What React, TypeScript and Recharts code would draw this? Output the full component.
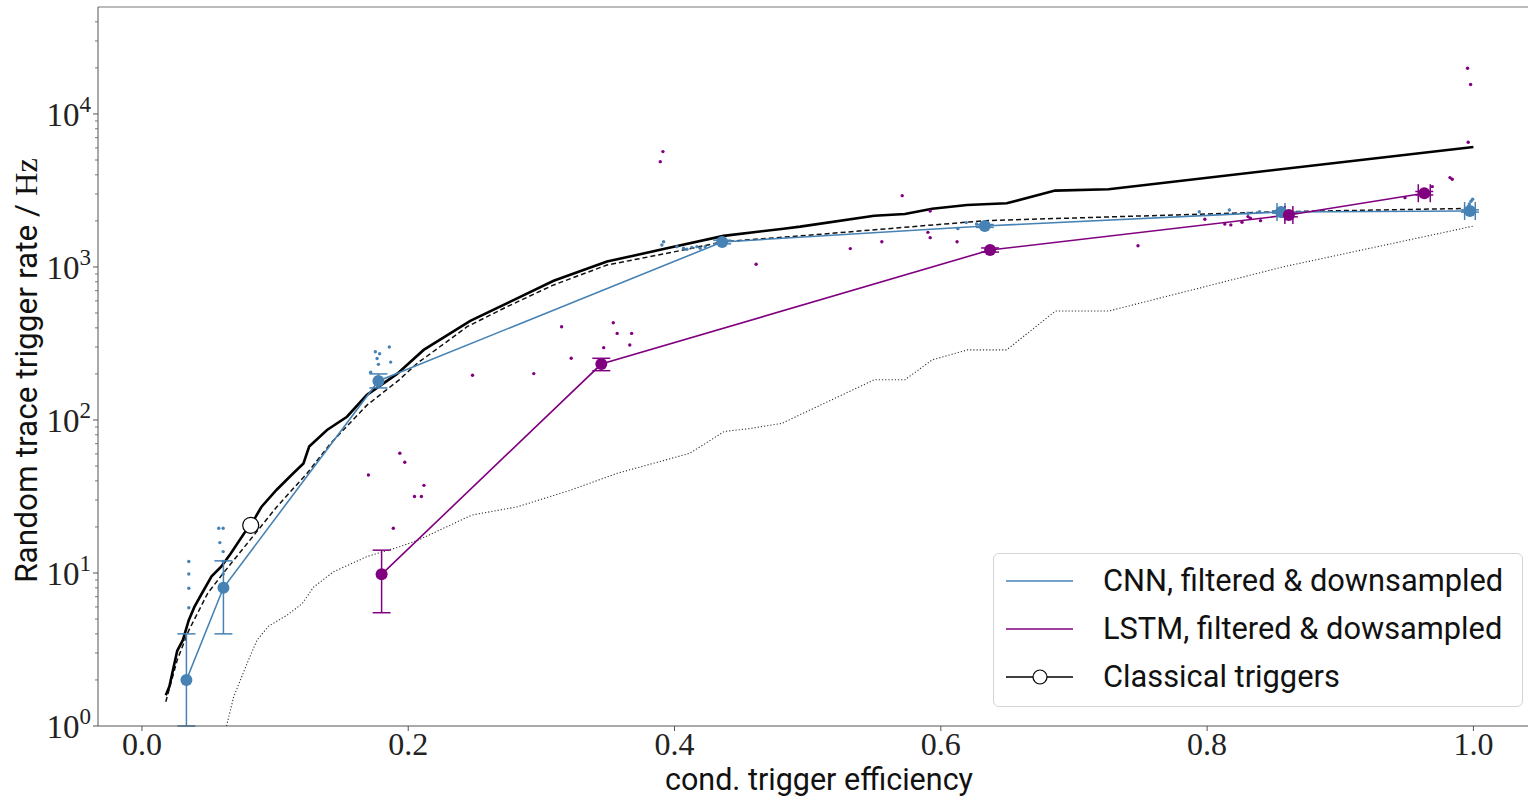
import React from 'react';
import { ComposedChart, Line, Scatter, XAxis, YAxis, ErrorBar, ReferenceLine, Legend } from 'recharts';

// classical triggers, solid curve
const classicX = [0.0179, 0.0206, 0.0265, 0.0308, 0.0351, 0.0394, 0.0452, 0.0523, 0.0595, 0.0667, 0.0768, 0.0817, 0.0897, 0.1012, 0.1127, 0.1213, 0.1256, 0.139, 0.154, 0.169, 0.1916, 0.2116, 0.2466, 0.2767, 0.3092, 0.3493, 0.3943, 0.4368, 0.4818, 0.4944, 0.55, 0.573, 0.5935, 0.6197, 0.6495, 0.6858, 0.726, 1.0];
const classicY = [1.59, 1.81, 3.1, 3.65, 4.9, 6.0, 7.4, 9.5, 11.0, 13.4, 18.2, 20.5, 27, 35, 44, 52, 67, 86, 105, 146, 200, 287, 444, 593, 813, 1084, 1325, 1596, 1779, 1834, 2163, 2220, 2404, 2541, 2608, 3156, 3221, 6085];

// classical triggers, dashed curve
const dashedX = [0.0179, 0.0265, 0.0351, 0.0495, 0.061, 0.0811, 0.1012, 0.1242, 0.1415, 0.169, 0.1932, 0.2066, 0.2442, 0.2742, 0.3092, 0.3493, 0.3943, 0.4368, 0.4944, 0.6338, 0.8568, 1.0];
const dashedY = [1.44, 2.7, 4.2, 7.4, 9.95, 16.4, 27, 45, 70, 125, 183, 234, 407, 550, 763, 1030, 1228, 1462, 1596, 2008, 2297, 2417];

// classical triggers, dotted curve
const dottedX = [0.0635, 0.0689, 0.079, 0.0865, 0.0952, 0.109, 0.1203, 0.129, 0.144, 0.169, 0.194, 0.2075, 0.2477, 0.2822, 0.3224, 0.3569, 0.4115, 0.4373, 0.457, 0.4806, 0.494, 0.55, 0.573, 0.5935, 0.62, 0.6495, 0.686, 0.726, 0.8568, 1.0];
const dottedY = [1.0, 1.55, 2.57, 3.65, 4.5, 5.3, 6.3, 8.1, 10.2, 12.8, 14.9, 16.4, 23.9, 27.1, 34.9, 44.8, 60.6, 84.1, 88, 95, 108, 183, 183, 247, 287, 287, 515, 515, 1000, 1850];

// open marker on the classical curve
const markerX = [0.0817];
const markerY = [20.5];

// CNN averages
const cnnX = [0.0334, 0.0612, 0.1776, 0.4358, 0.633, 0.8555, 0.9974];
const cnnY = [2.0, 8.0, 180, 1456, 1854, 2287, 2322];
const cnnErrY = [[1.0, 2.0], [4, 4], [18, 20], [40, 40], [40, 40], [40, 40], [40, 40]];
const cnnErrX = [0, 0, 0, 0, 0, 0.003, 0.004];

// CNN individual runs
const cnnDotX = [0.0352, 0.0352, 0.0352, 0.0352, 0.0577, 0.061, 0.0585, 0.061, 0.061, 0.061, 0.1753, 0.1785, 0.1858, 0.1766, 0.1868, 0.1776, 0.1718, 0.3905, 0.3918, 0.4018, 0.4068, 0.4093, 0.413, 0.4168, 0.4193, 0.423, 0.6128, 0.6191, 0.6268, 0.6355, 0.7941, 0.8167, 0.8307, 0.8394, 0.9969, 0.9982, 0.9994, 0.9961];
const cnnDotY = [11.9, 9.85, 7.94, 5.93, 19.6, 19.6, 15.8, 13.8, 11.9, 9.85, 279, 271, 300, 252, 239, 231, 205, 1393, 1462, 1358, 1325, 1304, 1343, 1358, 1325, 1358, 1780, 1950, 1910, 1927, 2297, 2358, 2243, 2297, 2582, 2687, 2768, 2478];

// LSTM averages
const lstmX = [0.180, 0.345, 0.637, 0.8614, 0.9631];
const lstmY = [9.8, 232, 1291, 2187, 3034];
const lstmErrY = [[4.3, 4.3], [22, 21], [40, 40], [60, 60], [80, 80]];
const lstmErrX = [0, 0, 0, 0.003, 0.0045];

// LSTM individual runs
const lstmDotX = [0.1701, 0.1937, 0.1974, 0.2118, 0.2047, 0.2099, 0.1888, 0.2483, 0.2943, 0.3152, 0.3224, 0.3468, 0.354, 0.3569, 0.3678, 0.3664, 0.3913, 0.3893, 0.4613, 0.571, 0.592, 0.532, 0.5557, 0.5903, 0.592, 0.6122, 0.7481, 0.7983, 0.8133, 0.8178, 0.8262, 0.8307, 0.8325, 0.8401, 0.9486, 0.9691, 0.9824, 0.9841, 0.9956, 0.9979, 0.9961];
const lstmDotY = [43.7, 60.6, 52.9, 37.4, 31.6, 31.6, 19.6, 196, 201, 407, 253, 297, 432, 368, 368, 309, 5675, 4878, 1042, 2924, 2322, 1318, 1462, 1683, 1554, 1462, 1377, 2050, 1910, 1883, 1960, 2133, 2080, 2008, 2838, 3350, 3837, 3742, 19900, 15560, 6530];

const xTicks = [0, 0.2, 0.4, 0.6, 0.8, 1.0];
const yTicks = [1, 2, 3, 4, 5, 6, 7, 8, 9, 10, 20, 30, 40, 50, 60, 70, 80, 90, 100, 200, 300, 400, 500, 600, 700, 800, 900, 1000, 2000, 3000, 4000, 5000, 6000, 7000, 8000, 9000, 10000, 20000, 30000, 40000];

const CNN = '#4682b4';
const LSTM = '#800080';
const SERIF = '"Liberation Serif", "DejaVu Serif", serif';
const SANS = 'Roboto, "Noto Sans", sans-serif';

const zip = (xs: number[], ys: number[]) => xs.map((x, i) => ({ x, y: ys[i] }));

const classic = zip(classicX, classicY);
const dashed = zip(dashedX, dashedY);
const dotted = zip(dottedX, dottedY);
const marker = zip(markerX, markerY);
const cnnDots = zip(cnnDotX, cnnDotY);
const lstmDots = zip(lstmDotX, lstmDotY);
const cnnMain = cnnX.map((x, i) => ({ x, y: cnnY[i], ey: cnnErrY[i], ex: cnnErrX[i] }));
const lstmMain = lstmX.map((x, i) => ({ x, y: lstmY[i], ey: lstmErrY[i], ex: lstmErrX[i] }));

const YTick = (props: any) => {
  const { x, y, payload } = props;
  const v = payload.value;
  const e = Math.round(Math.log10(v));
  const major = Math.abs(Math.log10(v) - e) < 1e-6;
  const ax = x + 8;
  return (
    <g>
      <line x1={ax - (major ? 5 : 3)} x2={ax} y1={y} y2={y} stroke="#555" strokeWidth={major ? 1 : 0.8} />
      {major && (
        <text x={ax - 7} y={y} textAnchor="end" fontFamily={SERIF} fill="#222">
          <tspan dy={12} fontSize={33}>10</tspan>
          <tspan dy={-14} fontSize={23}>{e}</tspan>
        </text>
      )}
    </g>
  );
};

const XTick = (props: any) => {
  const { x, y, payload } = props;
  return (
    <g>
      <line x1={x} x2={x} y1={y} y2={y + 5} stroke="#555" strokeWidth={1} />
      <text x={x} y={y + 29} textAnchor="middle" fontFamily={SERIF} fontSize={32} fill="#222">
        {payload.value.toFixed(1)}
      </text>
    </g>
  );
};

const dot = (color: string, r: number) => (props: any) => (
  <circle cx={props.cx} cy={props.cy} r={r} fill={color} stroke="none" />
);

const openDot = (props: any) => (
  <circle cx={props.cx} cy={props.cy} r={8} fill="#fff" stroke="#000" strokeWidth={1.2} />
);

const legendRows = [
  { label: 'CNN, filtered & downsampled', color: CNN, marker: false },
  { label: 'LSTM, filtered & dowsampled', color: LSTM, marker: false },
  { label: 'Classical triggers', color: '#000', marker: true },
];

const LegendBox = () => (
  <div
    style={{
      width: 530,
      height: 154,
      boxSizing: 'border-box',
      border: '1px solid #d4d4d4',
      borderRadius: 6,
      background: 'rgba(255,255,255,0.85)',
      position: 'relative',
    }}
  >
    {legendRows.map((r, i) => (
      <div key={r.label} style={{ position: 'absolute', left: 0, top: 27 + 48 * i - 24, height: 48, width: '100%' }}>
        <svg width={70} height={48} style={{ position: 'absolute', left: 11, top: 0 }}>
          <line x1={1} x2={68} y1={24} y2={24} stroke={r.color} strokeWidth={1.6} />
          {r.marker && <circle cx={35} cy={24} r={7} fill="#fff" stroke="#000" strokeWidth={1.2} />}
        </svg>
        <span
          style={{
            position: 'absolute',
            left: 109,
            top: 0,
            lineHeight: '48px',
            fontFamily: SANS,
            fontSize: 30.8,
            color: '#111',
            whiteSpace: 'nowrap',
          }}
        >
          {r.label}
        </span>
      </div>
    ))}
  </div>
);

export default function App() {
  return (
    <div style={{ position: 'absolute', left: 0, top: 0, width: 1528, height: 796, background: '#fff' }}>
      <ComposedChart width={1528} height={796} margin={{ top: 7, right: 0, bottom: 0, left: 0 }}>
        <XAxis
          type="number"
          dataKey="x"
          domain={[-0.033, 1.041]}
          ticks={xTicks}
          interval={0}
          allowDataOverflow
          tickSize={0}
          tickMargin={0}
          tickLine={false}
          tick={<XTick />}
          axisLine={{ stroke: '#555' }}
          height={70}
          label={{
            content: (p: any) => {
              const vb = p.viewBox;
              return (
                <text x={vb.x + vb.width / 2 + 6} y={vb.y + 64} textAnchor="middle" fontFamily={SANS} fontSize={30.5} fill="#111">
                  cond. trigger efficiency
                </text>
              );
            },
          }}
        />
        <YAxis
          type="number"
          dataKey="y"
          scale="log"
          domain={[1, 50000]}
          allowDataOverflow
          ticks={yTicks}
          interval={0}
          tickSize={0}
          tickMargin={8}
          tickLine={false}
          tick={<YTick />}
          axisLine={{ stroke: '#555' }}
          width={98}
          label={{
            content: (p: any) => {
              const vb = p.viewBox;
              const cy = vb.y + vb.height / 2 + 4;
              return (
                <text x={37} y={cy} transform={`rotate(-90, 37, ${cy})`} textAnchor="middle" fill="#111" fontSize={31.6}>
                  <tspan fontFamily={SANS}>Random trace trigger rate / </tspan>
                  <tspan fontFamily={SERIF} fontSize={32.5}>Hz</tspan>
                </text>
              );
            },
          }}
        />
        <ReferenceLine y={50000} stroke="#777" strokeWidth={1} ifOverflow="extendDomain" />

        <Line data={dotted} dataKey="y" stroke="#333" strokeWidth={1.1} strokeDasharray="1.2 2" dot={false} activeDot={false} isAnimationActive={false} />
        <Line data={dashed} dataKey="y" stroke="#111" strokeWidth={1.5} strokeDasharray="5 3" dot={false} activeDot={false} isAnimationActive={false} />
        <Line data={classic} dataKey="y" stroke="#000" strokeWidth={2.6} dot={false} activeDot={false} isAnimationActive={false} />

        <Line data={cnnMain} dataKey="y" stroke={CNN} strokeWidth={1.6} dot={false} activeDot={false} isAnimationActive={false} />
        <Line data={lstmMain} dataKey="y" stroke={LSTM} strokeWidth={1.6} dot={false} activeDot={false} isAnimationActive={false} />

        <Scatter data={cnnDots} dataKey="y" shape={dot(CNN, 1.7)} isAnimationActive={false} />
        <Scatter data={lstmDots} dataKey="y" shape={dot(LSTM, 1.7)} isAnimationActive={false} />

        <Scatter data={cnnMain} dataKey="y" shape={dot(CNN, 6)} isAnimationActive={false}>
          <ErrorBar dataKey="ey" direction="y" width={9} stroke={CNN} strokeWidth={1.5} />
          <ErrorBar dataKey="ex" direction="x" width={9} stroke={CNN} strokeWidth={1.5} />
        </Scatter>
        <Scatter data={lstmMain} dataKey="y" shape={dot(LSTM, 6)} isAnimationActive={false}>
          <ErrorBar dataKey="ey" direction="y" width={9} stroke={LSTM} strokeWidth={1.5} />
          <ErrorBar dataKey="ex" direction="x" width={9} stroke={LSTM} strokeWidth={1.5} />
        </Scatter>

        <Scatter data={marker} dataKey="y" shape={openDot} isAnimationActive={false} />

        <Legend
          layout="vertical"
          align="center"
          verticalAlign="middle"
          content={() => <LegendBox />}
          wrapperStyle={{ left: 993, top: 553, width: 530, height: 154 }}
        />
      </ComposedChart>
    </div>
  );
}
